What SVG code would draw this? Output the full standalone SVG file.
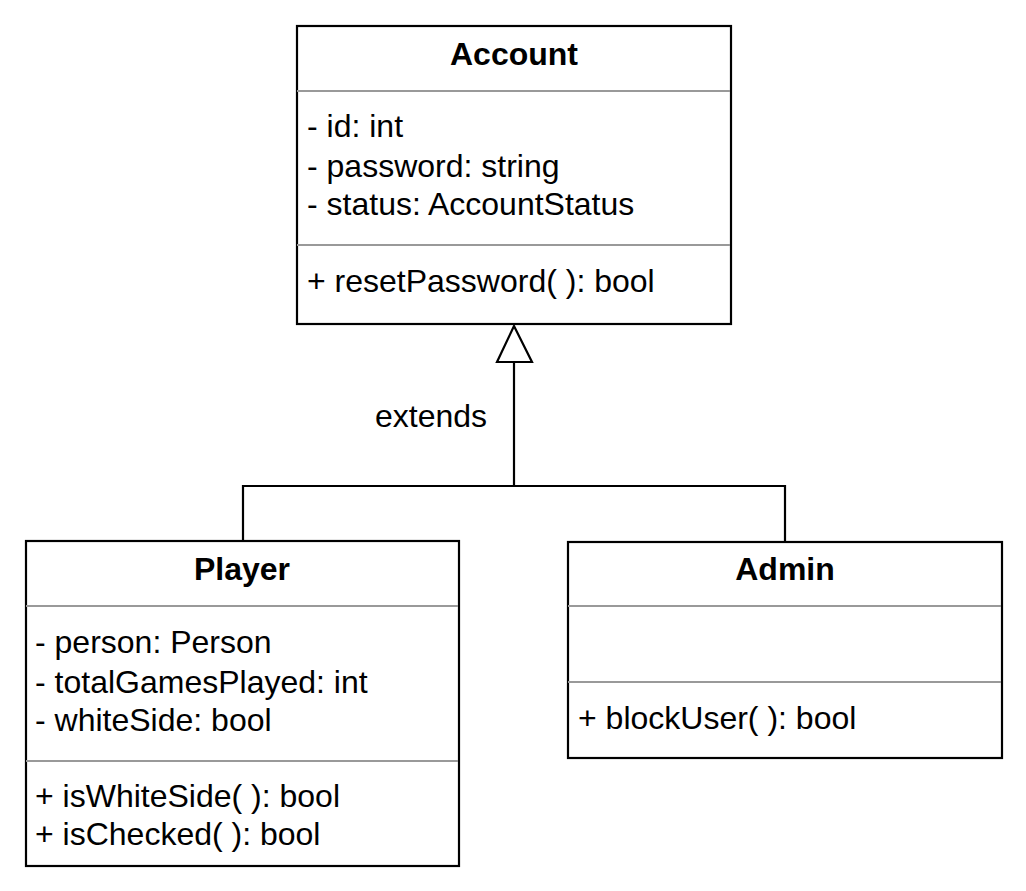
<svg xmlns="http://www.w3.org/2000/svg" width="1026" height="891" viewBox="0 0 1026 891">
<style>
.box{fill:#fff;stroke:#000;stroke-width:2.2}
.div{stroke:#999;stroke-width:2.2}
.t{font-family:"Liberation Sans",Arial,sans-serif;font-size:32px;fill:#000}
.h{font-family:"Liberation Sans",Arial,sans-serif;font-size:32px;font-weight:bold;fill:#000;text-anchor:middle}
.c{fill:none;stroke:#000;stroke-width:2.2}
</style>
<rect width="1026" height="891" fill="#fff"/>
<g id="connectors">
<polyline class="c" points="243,541 243,486 785,486 785,541"/>
<line class="c" x1="514" y1="486" x2="514" y2="362"/>
<polygon points="514,326 497,362 532,362" fill="#fff" stroke="#000" stroke-width="2.2"/>
<text class="t" x="431" y="427" text-anchor="middle">extends</text>
</g>
<g id="account">
<rect class="box" x="297" y="26" width="434" height="298"/>
<line class="div" x1="297" y1="91" x2="730" y2="91"/>
<line class="div" x1="297" y1="245" x2="730" y2="245"/>
<text class="h" x="514" y="65">Account</text>
<text class="t" x="307" y="137">- id: int</text>
<text class="t" x="307" y="177">- password: string</text>
<text class="t" x="307" y="215">- status: AccountStatus</text>
<text class="t" x="307" y="292">+ resetPassword( ): bool</text>
</g>
<g id="player">
<rect class="box" x="26" y="541" width="433" height="325"/>
<line class="div" x1="26" y1="606" x2="458" y2="606"/>
<line class="div" x1="26" y1="761" x2="458" y2="761"/>
<text class="h" x="242" y="580">Player</text>
<text class="t" x="35" y="653">- person: Person</text>
<text class="t" x="35" y="693">- totalGamesPlayed: int</text>
<text class="t" x="35" y="731">- whiteSide: bool</text>
<text class="t" x="35" y="807">+ isWhiteSide( ): bool</text>
<text class="t" x="35" y="845">+ isChecked( ): bool</text>
</g>
<g id="admin">
<rect class="box" x="568" y="542" width="434" height="216"/>
<line class="div" x1="568" y1="606" x2="1001" y2="606"/>
<line class="div" x1="568" y1="682" x2="1001" y2="682"/>
<text class="h" x="785" y="580">Admin</text>
<text class="t" x="578" y="729">+ blockUser( ): bool</text>
</g>
</svg>
